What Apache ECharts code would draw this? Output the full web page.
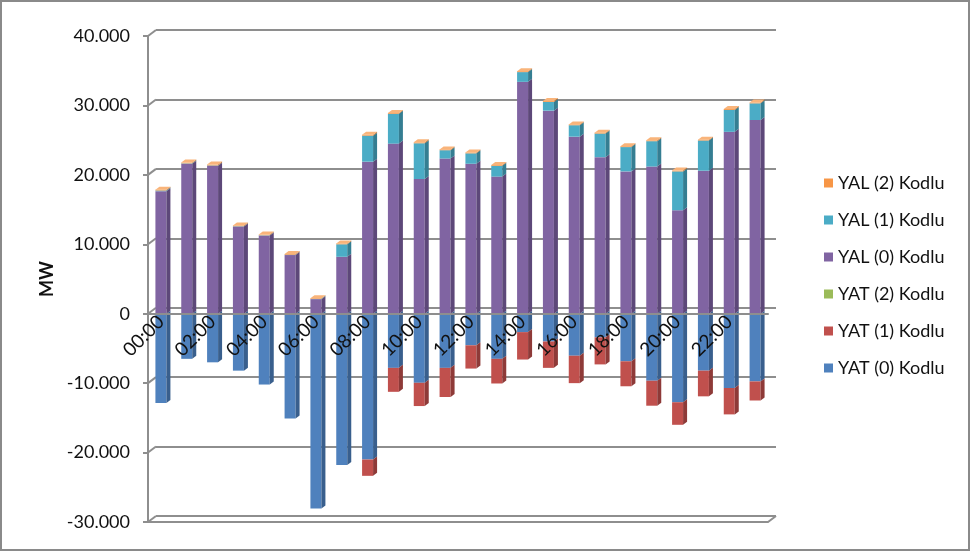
<!DOCTYPE html>
<html>
<head>
<meta charset="utf-8">
<script src="https://cdn.jsdelivr.net/npm/echarts@6/dist/echarts.min.js"></script>
<style>
html, body { margin: 0; padding: 0; background: #fff; }
#chart { width: 970px; height: 551px; box-sizing: border-box; border: 2px solid #8a8a8a; }
</style>
</head>
<body>
<div id="chart"></div>
<script>
let $ = a => document.querySelector(a)

// saatler
const hours = ['00:00', '01:00', '02:00', '03:00', '04:00', '05:00', '06:00', '07:00',
    '08:00', '09:00', '10:00', '11:00', '12:00', '13:00', '14:00', '15:00',
    '16:00', '17:00', '18:00', '19:00', '20:00', '21:00', '22:00', '23:00']

// yük alma (pozitif)
const yal0 = [17650, 21600, 21300, 12550, 11250, 8450, 2100, 8200, 21900, 24500, 19400, 22350,
    21600, 19750, 33400, 29250, 25500, 22550, 20500, 21200, 14900, 20600, 26200, 27900]
const yal1 = [100, 60, 60, 50, 50, 50, 40, 1800, 3750, 4300, 5150, 1200,
    1500, 1550, 1400, 1250, 1650, 3400, 3500, 3650, 5600, 4350, 3150, 2400]
const yal2 = [120, 110, 120, 110, 100, 110, 100, 120, 130, 120, 130, 120,
    120, 110, 130, 120, 120, 130, 120, 120, 110, 120, 130, 120]

// yük atma (negatif)
const yat0 = [-12850, -6500, -7000, -8200, -10200, -15100, -28050, -21800, -21000, -7800, -9950, -7800,
    -4550, -6500, -2650, -4000, -6050, -3400, -6850, -9650, -12750, -8200, -10700, -9750]
const yat1 = [0, 0, 0, 0, 0, 0, 0, 0, -2350, -3450, -3350, -4200,
    -3350, -3550, -3950, -3800, -3950, -3900, -3600, -3600, -3250, -3700, -3800, -2750]
const yat2 = [0, 0, 0, 0, 0, 0, 0, 0, 0, 0, 0, 0,
    0, 0, 0, 0, 0, 0, 0, 0, 0, 0, 0, 0]

const yTicks = [-30000, -20000, -10000, 0, 10000, 20000, 30000, 40000]

const font = 'Lato, "Open Sans", sans-serif'
const gridColor = '#8e8e8e'
const barW = 11
const dx = 4, dy = -3  // 3D derinlik
const plotH = 486

// [isim, veri, ön renk, yan renk, üst renk]
const seriesDefs = [
    ['YAT (0) Kodlu', yat0, '#4f81bd', '#395f8d', '#7fa3d0'],
    ['YAT (1) Kodlu', yat1, '#c0504d', '#8e3a38', '#d57f7d'],
    ['YAT (2) Kodlu', yat2, '#9bbb59', '#728a40', '#b8d083'],
    ['YAL (0) Kodlu', yal0, '#8064a2', '#5d4879', '#a48dc0'],
    ['YAL (1) Kodlu', yal1, '#4bacc6', '#357e92', '#80c6d9'],
    ['YAL (2) Kodlu', yal2, '#f79646', '#b96c2e', '#f9b47a']
]

// çubukların yan ve üst yüzleri
function renderDepth(params, api) {
    let i = api.value(0)
    let children = []
    let groups = [seriesDefs.slice(0, 3), seriesDefs.slice(3)]
    groups.forEach((group, gi) => {
        let base = 0
        let top = null
        group.forEach(def => {
            let v = def[1][i]
            if (!v) return
            let p0 = api.coord([i, base])
            let p1 = api.coord([i, base + v])
            let x1 = p0[0] + barW / 2
            children.push({
                type: 'polygon',
                shape: { points: [[x1, p0[1]], [x1 + dx, p0[1] + dy], [x1 + dx, p1[1] + dy], [x1, p1[1]]] },
                style: { fill: def[3] }
            })
            base += v
            top = { p: p1, color: def[4] }
        })
        if (gi === 1 && top) {
            let xl = top.p[0] - barW / 2, xr = top.p[0] + barW / 2, y = top.p[1]
            children.push({
                type: 'polygon',
                shape: { points: [[xl, y], [xl + dx, y + dy], [xr + dx, y + dy], [xr, y]] },
                style: { fill: top.color }
            })
        }
    })
    return { type: 'group', children: children }
}

// sol eksenden arka duvara çizgiler ve zemin
function renderDecor(params, api) {
    let v = api.value(1)
    let band = api.size([1, 0])[0]
    let p = api.coord([0, v])
    let x0 = p[0] - band / 2
    let kids = [{
        type: 'line',
        shape: { x1: x0, y1: p[1], x2: x0 + 8, y2: p[1] - 6 },
        style: { stroke: gridColor, lineWidth: 2 }
    }]
    if (v === yTicks[0]) {
        let xe = api.coord([hours.length - 1, v])[0] + band / 2
        kids.push({
            type: 'polyline',
            shape: { points: [[x0, p[1]], [xe, p[1]], [xe + 8, p[1] - 6]] },
            style: { stroke: gridColor, lineWidth: 2, fill: null }
        })
    }
    return { type: 'group', children: kids }
}

let series = seriesDefs.map(def => ({
    name: def[0],
    type: 'bar',
    stack: 'toplam',
    barWidth: barW,
    itemStyle: { color: def[2] },
    data: def[1]
}))

series.push({
    type: 'custom',
    name: 'derinlik',
    silent: true,
    renderItem: renderDepth,
    data: hours.map((h, i) => [i, 0]),
    z: 3
})

series.push({
    type: 'custom',
    name: 'dekor',
    silent: true,
    renderItem: renderDecor,
    data: yTicks.map(v => [0, v]),
    z: 1
})

let yFmt = v => v === 0 ? '0' : (v / 1000) + '.000'

// sıfır çizgisinin alttan uzaklığı
let zeroOffset = plotH * (0 - yTicks[0]) / (yTicks[yTicks.length - 1] - yTicks[0])

echarts.init($('#chart')).setOption({
    animation: false,
    backgroundColor: '#fff',
    textStyle: { fontFamily: font },
    legend: {
        data: ['YAL (2) Kodlu', 'YAL (1) Kodlu', 'YAL (0) Kodlu', 'YAT (2) Kodlu', 'YAT (1) Kodlu', 'YAT (0) Kodlu'],
        orient: 'vertical',
        left: 817,
        top: 167,
        icon: 'rect',
        itemWidth: 9,
        itemHeight: 9,
        itemGap: 19,
        textStyle: { fontSize: 18, color: '#111', fontFamily: font }
    },
    grid: [
        { left: 146, top: 34, width: 620, height: plotH, outerBoundsMode: 'none' },   // ön
        { left: 154, top: 28, width: 620, height: plotH, outerBoundsMode: 'none' }    // arka duvar
    ],
    xAxis: [
        {
            type: 'category',
            gridIndex: 0,
            data: hours,
            z: 10,
            position: 'bottom',
            offset: -zeroOffset,
            axisLine: { onZero: false, lineStyle: { color: gridColor, width: 2 } },
            axisTick: { interval: 0, length: 5, lineStyle: { color: gridColor, width: 2 } },
            axisLabel: { interval: 1, rotate: 45, margin: 5, fontSize: 19, color: '#111', fontFamily: font }
        },
        {
            type: 'category',
            gridIndex: 1,
            data: hours,
            show: false
        }
    ],
    yAxis: [
        {
            type: 'value',
            gridIndex: 0,
            min: -30000,
            max: 40000,
            interval: 10000,
            name: 'MW',
            nameLocation: 'middle',
            nameGap: 92,
            nameRotate: 90,
            nameTextStyle: { fontSize: 18, fontWeight: 'bold', color: '#111', fontFamily: font },
            axisLine: { show: true, lineStyle: { color: gridColor, width: 2 } },
            axisTick: { show: true, length: 5, lineStyle: { color: gridColor, width: 2 } },
            axisLabel: { margin: 18, fontSize: 18, color: '#111', fontFamily: font, formatter: yFmt },
            splitLine: { show: false }
        },
        {
            type: 'value',
            gridIndex: 1,
            min: -30000,
            max: 40000,
            interval: 10000,
            axisLine: { show: false },
            axisTick: { show: false },
            axisLabel: { show: false },
            splitLine: { lineStyle: { color: gridColor, width: 2 } }
        }
    ],
    series: series
})
</script>
</body>
</html>
